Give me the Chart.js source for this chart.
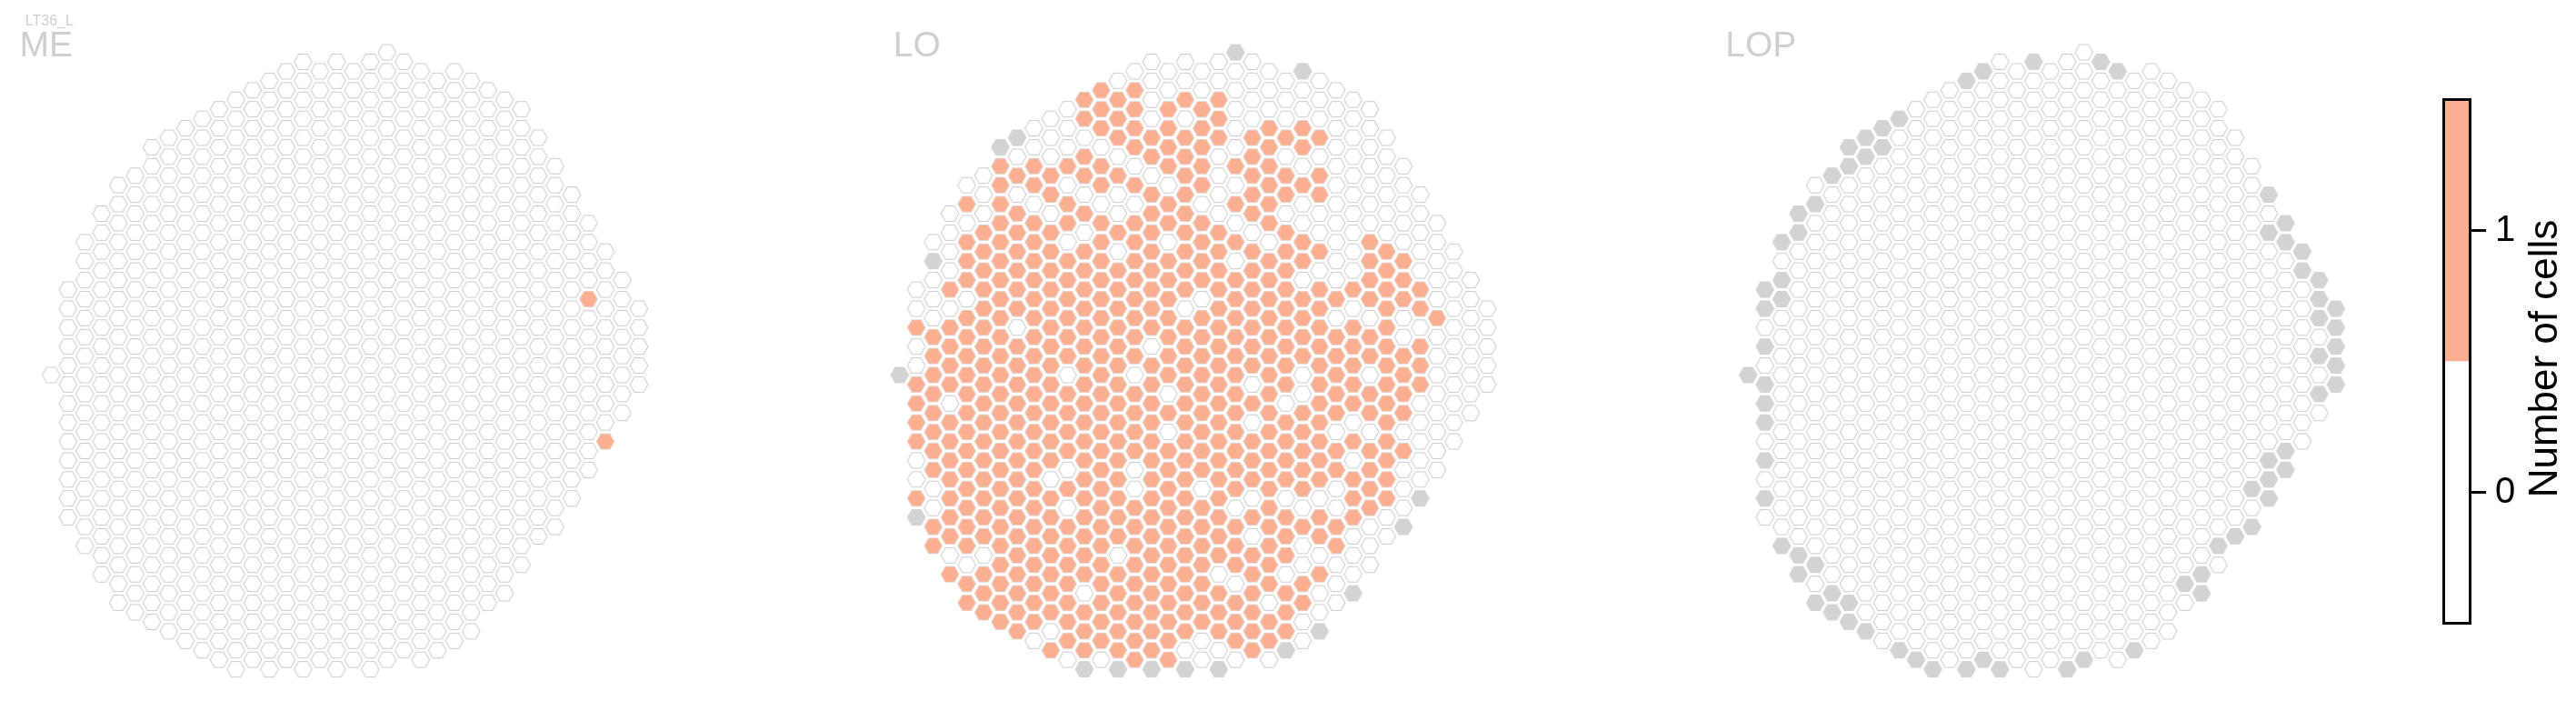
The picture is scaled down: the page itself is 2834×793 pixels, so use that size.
<!DOCTYPE html>
<html><head><meta charset="utf-8">
<script src="https://cdn.jsdelivr.net/npm/chart.js@4.4.1/dist/chart.umd.min.js"></script>
<style>
html,body{margin:0;padding:0;background:#fff;}
#wrap{position:relative;width:2834px;height:793px;overflow:hidden;background:#fff;}
canvas{position:absolute;top:0;}
</style></head><body><div id="wrap">
<canvas id="p0"></canvas><canvas id="p1"></canvas><canvas id="p2"></canvas><canvas id="cb"></canvas>
</div>
<script>
// ---------------- data ----------------
const figureLabel = 'LT36_L';
const panelNames = ['ME', 'LO', 'LOP'];
// hex grid: column index 0..35, half-row level (top of column / bottom of column)
const colTop    = [34,25,20,17,14,13,10,9,8,7,6,5,4,3,2,1,2,1,2,1,0,1,2,3,2,3,4,5,6,9,12,15,18,21,24,27];
const colBottom = [34,49,52,55,58,59,60,61,62,63,64,65,64,65,64,65,64,65,64,65,64,63,64,63,62,61,58,57,54,51,50,47,44,41,38,35];
// ME: number of cells, all 0 except these [column, level]
const meOneCells = [[32,26],[33,41]];
// LO: per column from top to bottom: 1 = one cell, 0 = none, x = no data
const loColumns = [
  "x",
  "0010 0111 1001 x",
  "0x000 11111111 00 11",
  "0000 1 0 11 11 0 1111111 0 1",
  "0 1 0 111 0 1111111111111 0 11",
  "000 11111111111111111 0 111",
  "x 1111111111 1111111111 11111",
  "x 0 1 0 111111 0 1 111111111111111",
  "00 11 0 1111111111 1111111111 11 0",
  "000 11 0 1111111 111111 0 1111111 0 1",
  "000 1 0 11 0 111111 0 1111 0 1 0 1111111 0",
  "11 0 11 0 1 0 111111 111111111111 0 111 x",
  "111 0 11 0 11111111111111111111111 0",
  "0 111 0 1 00 1 0 111111111111111 0 11111 x",
  "0 1111 0 1 0 11111111 0 1111 00 111111111",
  "0000 11 0 11111111 0 1111111111111111 x",
  "00 1111 0 11 0 1111111 0 1 0 111111111111",
  "00 1 0 111111111 0 11111111111111111 0 x",
  "00 11111 0 1111 0 111111111 0 1111111 00",
  "00 111 0000 111111111111111111 0 111 0 x",
  "x 00000 1 0 1 0 1 0 111111111111 0 111 0 111 0",
  "0000 11111 0 1111111 0 1 0 111 0 1 0 111111",
  "000 111111 0 111111111111111111 0 11 0",
  "000 1 0 11 0 111111111 0 1111 0 111 0 111 x",
  "x 00 11 0 1 00 11 0 1111 00 11111 0 1 00 11 00",
  "000 1 0 11 00 1 0 11111111111 0 11 0 1 00 x",
  "00000000000 1 0 11111 0 11 00 11 000",
  "0000000000 1 0 11111 0 1 0 111 000 x",
  "0000000 1111 0 11 0 11 0 1111 000",
  "000000 11111111111111 00",
  "00000 111 00 1111 0 1 000 x",
  "00000 11 0 111 00000 x",
  "00000 1 00000000",
  "00000000000",
  "00000000",
  "00000"
];
// LOP: all 0 except these [column, level] with no data
const lopMissing = [[0,34],[1,25],[1,27],[1,31],[1,35],[1,37],[1,39],[1,43],[1,47],[2,20],[2,24],[2,26],[2,52],
  [3,17],[3,19],[3,53],[3,55],[4,16],[4,54],[4,58],[5,13],[5,57],[5,59],[6,10],[6,12],[6,58],[6,60],[7,9],[7,11],[7,61],
  [8,8],[8,10],[9,7],[9,63],[10,64],[11,65],[13,3],[13,65],[14,2],[14,64],[15,65],[17,1],[19,65],[20,64],[21,1],[22,2],
  [23,63],[26,56],[27,55],[27,57],[28,52],[29,51],[30,46],[30,50],[31,15],[31,19],[31,43],[31,45],[31,47],[32,18],[32,20],
  [32,42],[32,44],[33,21],[33,23],[34,24],[34,26],[34,28],[34,32],[34,36],[35,27],[35,29],[35,31],[35,33],[35,35]];
// colour bar
const cbBounds = [-0.5, 0.5, 1.5];
const cbTicks = [0, 1];
const cbTitle = 'Number of cells';

// ---------------- styling / layout ----------------
const SALMON = '#fcae91', MISSING = '#d3d3d3', OUTLINE = '#cdcdcd';
const FONT = '"Liberation Sans", Arial, Helvetica, sans-serif';
const DX = 18.73, DY = 10.6, Y0 = 52.3, H = 793;
const col0Px = [51, 984.4, 1917.9];
const panelW = 880;

function hexImage(fill, stroke) {
  const c = document.createElement('canvas');
  c.width = 24; c.height = 22;
  const g = c.getContext('2d');
  const cx = 12, cy = 11, rx = 9.8, hh = 8.5;
  g.beginPath();
  g.moveTo(cx - rx, cy); g.lineTo(cx - rx/2, cy - hh); g.lineTo(cx + rx/2, cy - hh);
  g.lineTo(cx + rx, cy); g.lineTo(cx + rx/2, cy + hh); g.lineTo(cx - rx/2, cy + hh); g.closePath();
  g.fillStyle = fill; g.fill();
  g.lineWidth = 1.1; g.strokeStyle = stroke; g.stroke();
  return c;
}
const hexImg = { '0': hexImage('#ffffff', OUTLINE), '1': hexImage(SALMON, '#e4d2ca'), 'x': hexImage(MISSING, MISSING) };

function buildPoints(valueAt) {
  const pts = [];
  for (let c = 0; c < colTop.length; c++) {
    let i = 0;
    for (let L = colTop[c]; L <= colBottom[c]; L += 2, i++) pts.push({x: c, y: L, v: valueAt(c, L, i)});
  }
  return pts;
}
const has = (list, c, L) => list.some(p => p[0] === c && p[1] === L);
const panels = [
  buildPoints((c, L) => has(meOneCells, c, L) ? '1' : '0'),
  buildPoints((c, L, i) => (loColumns[c].replace(/\s/g, '')[i] || '0')),
  buildPoints((c, L) => has(lopMissing, c, L) ? 'x' : '0')
];

const labelPlugin = {
  id: 'panelLabel',
  afterDraw(chart, args, opts) {
    const ctx = chart.ctx;
    ctx.save();
    ctx.fillStyle = '#cfcfcf';
    ctx.textBaseline = 'alphabetic'; ctx.textAlign = 'left';
    ctx.font = '39px ' + FONT;
    ctx.fillText(opts.text, opts.x, 61.7);
    if (opts.sub) { ctx.font = '16px ' + FONT; ctx.fillText(opts.sub, opts.subX, 28.3); }
    ctx.restore();
  }
};

const labelX = [21.6, 982.7, 1898.3];
panels.forEach((pts, k) => {
  const cv = document.getElementById('p' + k);
  const left = Math.floor(col0Px[k] - 51);
  cv.width = panelW; cv.height = H;
  cv.style.left = left + 'px'; cv.style.width = panelW + 'px'; cv.style.height = H + 'px';
  const off = col0Px[k] - left;
  const xmin = -off / DX, ymin = -Y0 / DY;
  const order = {'0': 0, '1': 1, 'x': 2};
  pts.sort((a, b) => order[a.v] - order[b.v]);
  new Chart(cv, {
    type: 'scatter',
    data: { datasets: [{ data: pts, pointRadius: 5, pointStyle: ctx => hexImg[ctx.raw ? ctx.raw.v : '0'] }] },
    options: {
      responsive: false, animation: false, devicePixelRatio: 1, events: [],
      layout: { padding: 0 },
      plugins: { legend: { display: false }, tooltip: { enabled: false },
        panelLabel: { text: panelNames[k], x: labelX[k] - left, sub: k === 0 ? figureLabel : null, subX: 27.8 - left } },
      scales: {
        x: { type: 'linear', display: false, bounds: 'data', min: xmin, max: xmin + panelW / DX },
        y: { type: 'linear', display: false, bounds: 'data', reverse: true, min: ymin, max: ymin + H / DY }
      }
    },
    plugins: [labelPlugin]
  });
});

// ---------------- colour bar ----------------
const cbCanvas = document.getElementById('cb');
const CBL = 2600, CBW = 234;
cbCanvas.width = CBW; cbCanvas.height = H;
cbCanvas.style.left = CBL + 'px'; cbCanvas.style.width = CBW + 'px'; cbCanvas.style.height = H + 'px';
const cbPlugin = {
  id: 'cbFrame',
  afterDraw(chart) {
    const { ctx, chartArea: a } = chart;
    ctx.save();
    ctx.strokeStyle = '#000'; ctx.lineWidth = 3;
    ctx.strokeRect(a.left, a.top, a.right - a.left, a.bottom - a.top);
    ctx.translate(2813 - CBL, (a.top + a.bottom) / 2 - 3);
    ctx.rotate(-Math.PI / 2);
    ctx.fillStyle = '#000'; ctx.font = '44px ' + FONT;
    ctx.textAlign = 'center'; ctx.textBaseline = 'alphabetic';
    ctx.fillText(cbTitle, 0, 0);
    ctx.restore();
  }
};
new Chart(cbCanvas, {
  type: 'bar',
  data: { labels: [''], datasets: [
    { data: [[cbBounds[0], cbBounds[1]]], backgroundColor: '#ffffff', borderWidth: 0, barPercentage: 1, categoryPercentage: 1 },
    { data: [[cbBounds[1], cbBounds[2]]], backgroundColor: SALMON, borderWidth: 0, barPercentage: 1, categoryPercentage: 1 }
  ]},
  options: {
    responsive: false, animation: false, devicePixelRatio: 1, events: [],
    layout: { padding: { left: 88.5, right: 0, top: 109.5, bottom: 107.5 } },
    plugins: { legend: { display: false }, tooltip: { enabled: false } },
    scales: {
      x: { display: false, stacked: true },
      y: { position: 'right', min: cbBounds[0], max: cbBounds[2],
        afterBuildTicks: s => { s.ticks = cbTicks.map(v => ({ value: v })); },
        afterFit: s => { s.width = CBW - 88.5 - 29; },
        ticks: { color: '#000', font: { size: 40, family: FONT }, padding: 10 },
        grid: { drawOnChartArea: false, drawTicks: true, tickLength: 17.5, tickWidth: 3, tickColor: '#000' },
        border: { display: true, color: '#000', width: 3 }
      }
    }
  },
  plugins: [cbPlugin]
});
</script>
</body></html>
